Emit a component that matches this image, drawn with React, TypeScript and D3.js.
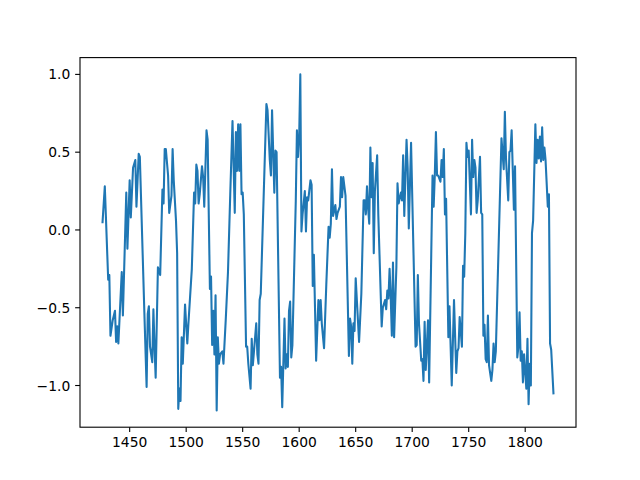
import React from "react";
import * as d3 from "d3";

// vertices of the series (year, value)
const years = [
  1426, 1428, 1431, 1432, 1433, 1435, 1437, 1438, 1439, 1440, 1443, 1444, 1447, 1448, 1450, 1451,
  1453, 1455, 1456, 1458, 1459, 1463, 1465, 1466, 1467, 1468, 1470, 1471, 1472, 1473, 1475, 1477,
  1479, 1480, 1481, 1482, 1484, 1485, 1487, 1488, 1489, 1491, 1492, 1493, 1494, 1495, 1496, 1497,
  1499, 1501, 1502, 1505, 1507, 1508, 1509, 1510, 1511, 1512, 1514, 1515, 1516, 1518, 1519, 1521,
  1522, 1523, 1524, 1525, 1526, 1527, 1528, 1529, 1530, 1532, 1533, 1535, 1537, 1539, 1541, 1543,
  1544, 1545, 1546, 1547, 1548, 1549, 1550, 1551, 1553, 1554, 1555, 1557, 1558, 1559, 1560, 1562,
  1563, 1564, 1565, 1566, 1571, 1572, 1574, 1575, 1576, 1578, 1579, 1580, 1583, 1584, 1585, 1587,
  1588, 1589, 1590, 1591, 1592, 1593, 1594, 1597, 1598, 1599, 1600, 1601, 1602, 1603, 1605, 1606,
  1607, 1608, 1610, 1611, 1612, 1613, 1614, 1615, 1617, 1618, 1619, 1620, 1622, 1624, 1626, 1627,
  1628, 1629, 1630, 1632, 1633, 1634, 1636, 1637, 1638, 1639, 1641, 1644, 1645, 1646, 1647, 1648,
  1649, 1650, 1653, 1655, 1657, 1658, 1659, 1660, 1661, 1662, 1663, 1664, 1665, 1666, 1667, 1669,
  1670, 1673, 1674, 1676, 1677, 1678, 1679, 1680, 1681, 1682, 1683, 1684, 1686, 1687, 1688, 1690,
  1691, 1692, 1693, 1695, 1696, 1697, 1699, 1703, 1704, 1705, 1706, 1708, 1709, 1710, 1711, 1712,
  1714, 1715, 1718, 1719, 1720, 1721, 1722, 1723, 1725, 1726, 1727, 1728, 1729, 1730, 1732, 1733,
  1735, 1737, 1739, 1740, 1741, 1742, 1744, 1745, 1746, 1747, 1748, 1749, 1750, 1752, 1753, 1754,
  1755, 1756, 1757, 1758, 1760, 1761, 1762, 1763, 1764, 1765, 1766, 1767, 1768, 1770, 1771, 1772,
  1773, 1774, 1779, 1781, 1782, 1783, 1785, 1786, 1787, 1788, 1790, 1791, 1793, 1794, 1795, 1796,
  1797, 1798, 1799, 1801, 1802, 1803, 1804, 1805, 1806, 1807, 1809, 1810, 1811, 1812, 1813, 1814,
  1815, 1816, 1817, 1818, 1820, 1821, 1822, 1823, 1825,
];

const values = [
  0.05, 0.28, -0.32, -0.29, -0.68, -0.58, -0.52, -0.72, -0.62, -0.73, -0.27, -0.55, 0.24, -0.12, 0.32, 0.08,
  0.4, 0.45, 0.15, 0.49, 0.47, -0.53, -1.01, -0.54, -0.49, -0.75, -0.85, -0.51, -0.75, -0.95, -0.24, -0.29,
  0.26, 0.17, 0.52, 0.52, 0.35, 0.11, 0.22, 0.52, 0.32, 0.06, -0.15, -1.15, -1.02, -1.1, -0.69, -0.86,
  -0.48, -0.73, -0.6, -0.25, 0.24, 0.17, 0.42, 0.38, 0.17, 0.23, 0.41, 0.34, 0.15, 0.64, 0.58, -0.38,
  -0.3, -0.74, -0.52, -0.8, -0.42, -1.16, -0.69, -0.86, -0.8, -0.78, -0.86, -0.58, -0.27, 0.23, 0.7, 0.11,
  0.63, 0.38, 0.68, 0.38, 0.68, 0.23, 0.24, 0.1, -0.75, -0.75, -0.86, -1.02, -0.7, -0.87, -0.78, -0.6,
  -0.8, -0.86, -0.45, -0.41, 0.81, 0.77, 0.45, 0.35, 0.77, 0.24, 0.51, 0.5, -0.95, -0.88, -1.14, -0.57,
  -0.89, -0.8, -0.88, -0.52, -0.46, -0.82, -0.74, 0.19, 0.64, 0.47, 0.6, 1.0, -0.01, 0.1, 0.25, -0.01,
  0.21, 0.19, 0.32, 0.29, -0.36, -0.16, -0.5, -0.84, -0.45, -0.58, -0.45, -0.6, -0.76, -0.35, 0.02, -0.05,
  0.04, 0.39, 0.09, 0.16, 0.07, 0.11, 0.15, 0.34, 0.21, 0.34, 0.22, -0.81, -0.57, -0.62, -0.86, -0.6,
  -0.65, -0.31, -0.72, -0.41, 0.19, 0.19, 0.1, 0.28, 0.14, 0.04, 0.53, 0.21, 0.43, -0.15, 0.25, 0.48,
  0.1, -0.62, -0.5, -0.45, -0.51, -0.39, -0.44, -0.25, -0.43, -0.68, -0.21, -0.69, -0.24, 0.3, 0.17, 0.24,
  0.19, 0.48, 0.09, 0.58, 0.4, 0.01, 0.56, -0.75, -0.74, -0.29, -0.6, -0.84, -0.83, -0.97, -0.59, -0.9,
  -0.58, -0.98, 0.35, 0.15, 0.35, 0.63, 0.35, 0.35, 0.31, 0.45, 0.34, 0.52, 0.1, 0.2, -0.69, -0.49,
  -1.0, -0.45, -0.92, -0.78, -0.76, -0.56, -0.75, -0.23, -0.3, -0.02, 0.56, 0.47, 0.51, 0.1, 0.58, 0.34,
  0.45, 0.4, 0.11, 0.19, 0.47, 0.11, 0.1, -0.68, -0.61, -0.83, -0.85, -0.55, -0.87, -0.97, -0.9, -0.73,
  -0.85, -0.78, 0.59, 0.39, 0.76, 0.46, 0.19, 0.5, 0.51, 0.64, 0.13, 0.41, -0.82, -0.75, -0.53, -0.84,
  -0.78, -0.98, -0.8, -1.02, -0.7, -1.12, -0.86, -1.0, -0.02, 0.06, 0.68, 0.43, 0.58, 0.46, 0.6, 0.44,
  0.66, 0.45, 0.53, 0.45, 0.15, 0.23, -0.73, -0.77, -1.05,
];

const xTicks = [1450, 1500, 1550, 1600, 1650, 1700, 1750, 1800];
const yTicks = [-1.0, -0.5, 0.0, 0.5, 1.0];

const width = 640;
const height = 480;
const margin = { top: 57.6, right: 64, bottom: 52.8, left: 80 };

const pad = (ext: [number, number]): [number, number] => {
  const r = ext[1] - ext[0];
  return [ext[0] - r * 0.05, ext[1] + r * 0.05];
};

const App = () => {
  const plotW = width - margin.left - margin.right;
  const plotH = height - margin.top - margin.bottom;

  const data = years.map((y, i) => ({ year: y, value: values[i] }));

  const x = d3
    .scaleLinear()
    .domain(pad(d3.extent(years) as [number, number]))
    .range([margin.left, margin.left + plotW]);
  const y = d3
    .scaleLinear()
    .domain(pad(d3.extent(values) as [number, number]))
    .range([margin.top + plotH, margin.top]);

  const line = d3
    .line<{ year: number; value: number }>()
    .x((d) => x(d.year))
    .y((d) => y(d.value));

  const tickLen = 4.86;
  const font = "DejaVu Sans, sans-serif";
  const fmt = (v: number) => v.toFixed(1).replace("-", "\u2212");

  return (
    <svg
      width={width}
      height={height}
      style={{ position: "absolute", left: 0, top: 0, background: "#fff" }}
    >
      <rect x={0} y={0} width={width} height={height} fill="#fff" />
      <path
        d={line(data) ?? ""}
        fill="none"
        stroke="#1f77b4"
        strokeWidth={2.08}
        strokeLinejoin="round"
        strokeLinecap="square"
      />
      <rect
        x={margin.left}
        y={margin.top}
        width={plotW}
        height={plotH}
        fill="none"
        stroke="#000"
        strokeWidth={1.1}
      />
      {xTicks.map((t) => (
        <g key={`x${t}`}>
          <line
            x1={x(t)}
            x2={x(t)}
            y1={margin.top + plotH}
            y2={margin.top + plotH + tickLen}
            stroke="#000"
            strokeWidth={1.1}
          />
          <text
            x={x(t)}
            y={margin.top + plotH + tickLen + 4.86 + 10.3}
            textAnchor="middle"
            fontFamily={font}
            fontSize={13.89}
            fill="#000"
          >
            {t}
          </text>
        </g>
      ))}
      {yTicks.map((t) => (
        <g key={`y${t}`}>
          <line
            x1={margin.left - tickLen}
            x2={margin.left}
            y1={y(t)}
            y2={y(t)}
            stroke="#000"
            strokeWidth={1.1}
          />
          <text
            x={margin.left - tickLen - 4.86}
            y={y(t) + 5}
            textAnchor="end"
            fontFamily={font}
            fontSize={13.89}
            fill="#000"
          >
            {fmt(t)}
          </text>
        </g>
      ))}
    </svg>
  );
};

export default App;
